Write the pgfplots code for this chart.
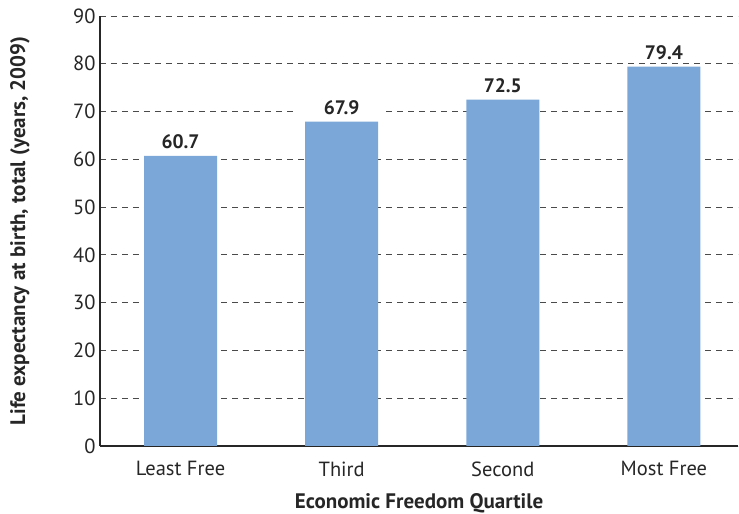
\documentclass[border=0pt]{standalone}
\usepackage{pgfplots}
\pgfplotsset{compat=1.18}
\usepackage{fontspec}
\setmainfont{PT Sans}
\definecolor{barblue}{HTML}{7BA7D8}
\definecolor{gridgray}{HTML}{4A4A4A}
\begin{document}
\begin{tikzpicture}[x=1bp,y=1bp]
\useasboundingbox (-100,-68) rectangle (639,446);
\begin{axis}[
  at={(0,0)}, anchor=south west,
  scale only axis, width=638bp, height=430bp,
  xmin=-0.5, xmax=3.46, ymin=0, ymax=90,
  axis x line*=bottom, axis y line*=left,
  axis line style={-, line width=1.6bp, black!85},
  ytick={0,10,...,90},
  xtick={0,1,2,3},
  xticklabels={Least Free,Third,Second,Most Free},
  major tick length=0pt,
  ymajorgrids,
  grid style={dash pattern=on 6bp off 5bp, gridgray, line width=0.9bp},
  /pgf/number format/assume math mode=true,
  tick label style={font=\fontsize{20.5bp}{24bp}\selectfont, text=black!85},
  yticklabel style={xshift=-1bp},
  xticklabel style={yshift=-12bp},
  xlabel={Economic Freedom Quartile},
  ylabel={Life expectancy at birth, total (years, 2009)},
  label style={font=\fontsize{21bp}{24bp}\selectfont\bfseries, text=black!85},
  xlabel style={at={(axis description cs:0.5,0)}, anchor=center, yshift=-57bp},
  ylabel style={at={(axis description cs:0,0.5)}, anchor=center, yshift=80bp},
  ybar, bar width=73bp,
  nodes near coords,
  nodes near coords style={font=\fontsize{19.5bp}{23bp}\selectfont\bfseries, text=black!85, fill=white, minimum width=88bp, inner ysep=2bp, anchor=south, yshift=5bp, /pgf/number format/.cd, fixed, fixed zerofill, precision=1, assume math mode=true},
]
\addplot[fill=barblue, draw=none] coordinates {(0,60.7) (1,67.9) (2,72.5) (3,79.4)};
\end{axis}
\end{tikzpicture}
\end{document}
